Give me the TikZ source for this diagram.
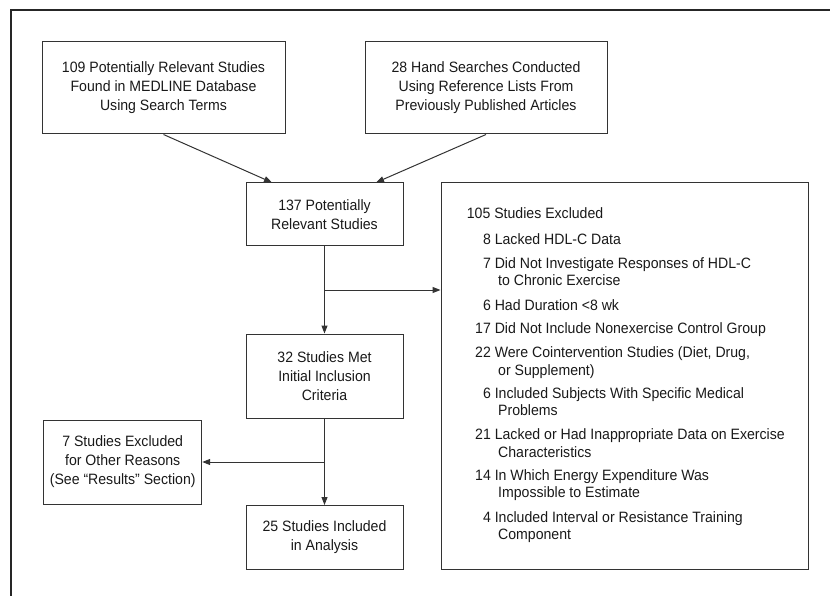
\documentclass[tikz,border=0pt]{standalone}
\usepackage{fontspec}
\setmainfont{Liberation Sans}[FakeStretch=0.94]
\usetikzlibrary{arrows.meta,calc}
\newcommand\exnum[1]{\makebox[24pt][r]{#1}\ }
\begin{document}
\begin{tikzpicture}[x=1pt,y=1pt,
  box/.style={draw=black!80,line width=1pt,align=center,inner sep=0pt,font=\fontsize{15}{19}\selectfont,text=black!90},
  lst/.style={anchor=base west,inner sep=0pt,font=\fontsize{15}{17.3}\selectfont,text=black!90},
  arr/.style={draw=black!80,line width=1pt,-{Triangle[length=8pt,width=6pt]}}]
\useasboundingbox (0,0) rectangle (830,-596);
\draw[line width=2pt,black!85] (832,-10) -- (11,-10) -- (11,-598);
\node[box,minimum width=243pt,minimum height=92pt] (b1) at (163.5,-88) {109 Potentially Relevant Studies\\Found in MEDLINE Database\\Using Search Terms};
\node[box,minimum width=242pt,minimum height=92pt] (b2) at (486,-88) {28 Hand Searches Conducted\\Using Reference Lists From\\Previously Published Articles};
\node[box,minimum width=157pt,minimum height=63pt] (b137) at (324.5,-214.5) {137 Potentially\\Relevant Studies};
\node[box,minimum width=157pt,minimum height=84pt] (b32) at (324.5,-376) {32 Studies Met\\Initial Inclusion\\Criteria};
\node[box,minimum width=158pt,minimum height=84pt] (b7) at (122.7,-462) {7 Studies Excluded\\for Other Reasons\\(See “Results” Section)};
\node[box,minimum width=157pt,minimum height=64pt] (b25) at (324.5,-537.5) {25 Studies Included\\in Analysis};
\node[box,minimum width=367pt,minimum height=386pt] (ex) at (624.5,-376) {};
% exclusion list
\node[lst] (t0) at (466.7,-218.3) {105 Studies Excluded};
\node[lst] (t1) at (466.7,-244.3) {\exnum{8}Lacked HDL-C Data};
\node[lst] (t2) at (466.7,-268.3) {\exnum{7}Did Not Investigate Responses of HDL-C};
\node[lst] (t2b) at (498,-285.3) {to Chronic Exercise};
\node[lst] (t3) at (466.7,-310.3) {\exnum{6}Had Duration <8 wk};
\node[lst] (t4) at (466.7,-333.3) {\exnum{17}Did Not Include Nonexercise Control Group};
\node[lst] (t5) at (466.7,-357.3) {\exnum{22}Were Cointervention Studies (Diet, Drug,};
\node[lst] (t5b) at (498,-375.3) {or Supplement)};
\node[lst] (t6) at (466.7,-398.3) {\exnum{6}Included Subjects With Specific Medical};
\node[lst] (t6b) at (498,-415.3) {Problems};
\node[lst] (t7) at (466.7,-439.3) {\exnum{21}Lacked or Had Inappropriate Data on Exercise};
\node[lst] (t7b) at (498,-457.3) {Characteristics};
\node[lst] (t8) at (466.7,-480.3) {\exnum{14}In Which Energy Expenditure Was};
\node[lst] (t8b) at (498,-497.3) {Impossible to Estimate};
\node[lst] (t9) at (466.7,-522.3) {\exnum{4}Included Interval or Resistance Training};
\node[lst] (t9b) at (498,-539.3) {Component};
% connectors
\draw[arr] (b1.south) -- ([xshift=-52.5pt]b137.north);
\draw[arr] (b2.south) -- ([xshift=51.5pt]b137.north);
\draw[arr] (b137.south) -- (b32.north);
\coordinate (j1) at ($(b137.south)!0.5!(b32.north)$);
\draw[arr] (j1) -- (ex.west |- j1);
\draw[arr] (b32.south) -- (b25.north);
\coordinate (j2) at (b32.south |- b7.east);
\draw[arr] (j2) -- (b7.east);
\end{tikzpicture}
\end{document}
